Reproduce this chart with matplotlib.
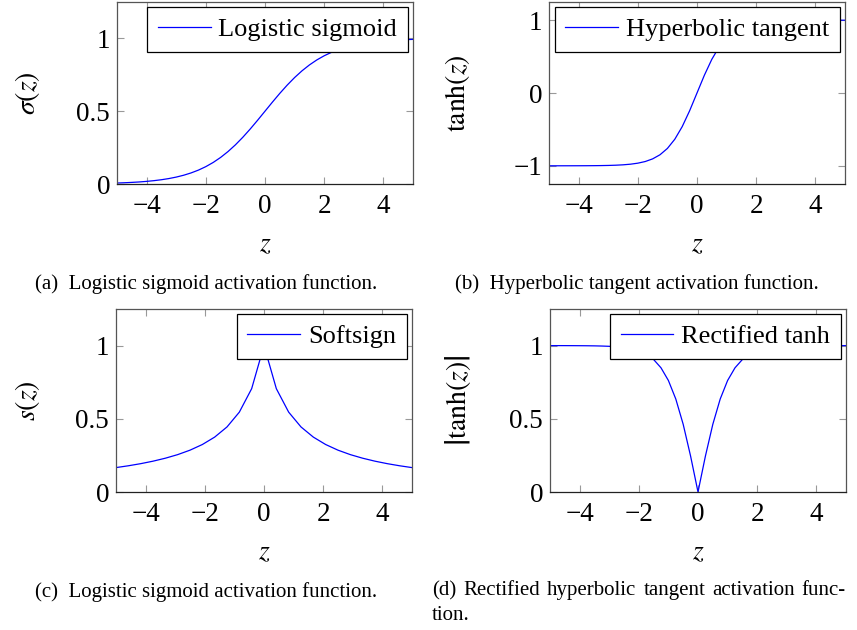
import numpy as np
import matplotlib
matplotlib.use("Agg")
from matplotlib import pyplot as plt

plt.rcParams['font.family'] = ['Liberation Serif', 'DejaVu Serif']
plt.rcParams['mathtext.fontset'] = 'stix'

# sample points (step 0.25) for the smooth curves
z_fine = [-5.0, -4.75, -4.5, -4.25, -4.0, -3.75, -3.5, -3.25, -3.0, -2.75,
          -2.5, -2.25, -2.0, -1.75, -1.5, -1.25, -1.0, -0.75, -0.5, -0.25,
          0.0, 0.25, 0.5, 0.75, 1.0, 1.25, 1.5, 1.75, 2.0, 2.25,
          2.5, 2.75, 3.0, 3.25, 3.5, 3.75, 4.0, 4.25, 4.5, 4.75, 5.0]

sigmoid_vals = [0.0067, 0.0086, 0.0110, 0.0140, 0.0180, 0.0230, 0.0293, 0.0373, 0.0474, 0.0601,
                0.0759, 0.0953, 0.1192, 0.1480, 0.1824, 0.2227, 0.2689, 0.3208, 0.3775, 0.4378,
                0.5000, 0.5622, 0.6225, 0.6792, 0.7311, 0.7773, 0.8176, 0.8520, 0.8808, 0.9047,
                0.9241, 0.9399, 0.9526, 0.9627, 0.9707, 0.9770, 0.9820, 0.9860, 0.9890, 0.9914, 0.9933]

tanh_vals = [-0.9999, -0.9999, -0.9998, -0.9996, -0.9993, -0.9989, -0.9982, -0.9970, -0.9951, -0.9919,
             -0.9866, -0.9780, -0.9640, -0.9414, -0.9051, -0.8483, -0.7616, -0.6351, -0.4621, -0.2449,
             0.0, 0.2449, 0.4621, 0.6351, 0.7616, 0.8483, 0.9051, 0.9414, 0.9640, 0.9780,
             0.9866, 0.9919, 0.9951, 0.9970, 0.9982, 0.9989, 0.9993, 0.9996, 0.9998, 0.9999, 0.9999]

abs_tanh_vals = [0.9999, 0.9999, 0.9998, 0.9996, 0.9993, 0.9989, 0.9982, 0.9970, 0.9951, 0.9919,
                 0.9866, 0.9780, 0.9640, 0.9414, 0.9051, 0.8483, 0.7616, 0.6351, 0.4621, 0.2449,
                 0.0, 0.2449, 0.4621, 0.6351, 0.7616, 0.8483, 0.9051, 0.9414, 0.9640, 0.9780,
                 0.9866, 0.9919, 0.9951, 0.9970, 0.9982, 0.9989, 0.9993, 0.9996, 0.9998, 0.9999, 0.9999]

# coarse sampling (25 samples) for the softsign panel
z_coarse = [-5.0, -4.5833, -4.1667, -3.75, -3.3333, -2.9167, -2.5, -2.0833, -1.6667, -1.25,
            -0.8333, -0.4167, 0.0, 0.4167, 0.8333, 1.25, 1.6667, 2.0833, 2.5, 2.9167,
            3.3333, 3.75, 4.1667, 4.5833, 5.0]
softsign_vals = [0.1667, 0.1791, 0.1935, 0.2105, 0.2308, 0.2553, 0.2857, 0.3243, 0.375, 0.4444,
                 0.5455, 0.7059, 1.0, 0.7059, 0.5455, 0.4444, 0.375, 0.3243, 0.2857, 0.2553,
                 0.2308, 0.2105, 0.1935, 0.1791, 0.1667]

x_ticks = [-4, -2, 0, 2, 4]

panels = [
    # x, y, legend, ylabel, yticks, ylim, caption
    (z_fine, sigmoid_vals, 'Logistic sigmoid', r'$\sigma(z)$', [0, 0.5, 1], (0, 1.25),
     '(a)  Logistic sigmoid activation function.'),
    (z_fine, tanh_vals, 'Hyperbolic tangent', r'$\mathrm{tanh}(z)$', [-1, 0, 1], (-1.25, 1.25),
     '(b)  Hyperbolic tangent activation function.'),
    (z_coarse, softsign_vals, 'Softsign', r'$s(z)$', [0, 0.5, 1], (0, 1.25),
     '(c)  Logistic sigmoid activation function.'),
    (z_fine, abs_tanh_vals, 'Rectified tanh', r'$\left|\mathrm{tanh}(z)\right|$', [0, 0.5, 1], (0, 1.25),
     None),
]
caption_d = ['(d)', 'Rectified', 'hyperbolic', 'tangent', 'activation', 'func-']
caption_d_end = 'tion.'

# axes rectangles in pixels: left, top, right, bottom
boxes = [(117, 2, 413, 184), (549, 2, 845, 184), (116, 309, 412, 492), (550, 309, 846, 492)]
ylabel_x = [27, 458, 27, 458]
caption_cx = [206, 637, 206, None]

W, H = 857, 630
fig = plt.figure(figsize=(W / 100, H / 100), dpi=100)

for k, ((x, y, leg, ylab, yt, ylim, cap), (l, t, r, b)) in enumerate(zip(panels, boxes)):
    ax = fig.add_axes([l / W, 1 - b / H, (r - l) / W, (b - t) / H])
    ax.plot(x, y, color='blue', lw=0.9, label=leg)
    ax.set_xlim(-5, 5)
    ax.set_ylim(*ylim)
    ax.set_xticks(x_ticks)
    ax.set_xticklabels(['\u22124', '\u22122', '0', '2', '4'])
    ax.set_yticks(yt)
    ax.set_yticklabels([('\u2212' + str(abs(v))) if v < 0 else str(v) for v in yt])
    ax.tick_params(direction='in', length=5, width=0.8, color='#999999',
                   top=True, right=True, labelsize=19.5)
    ax.tick_params(axis='x', pad=7)
    ax.tick_params(axis='y', pad=5)
    for s in ax.spines.values():
        s.set_color('#555555')
        s.set_linewidth(0.9)
    ax.spines['bottom'].set_color('#222222')
    ax.set_xlabel(r'$z$', fontsize=20, labelpad=10)
    ax.set_ylabel(ylab, fontsize=20, va='center')
    ax.yaxis.set_label_coords((ylabel_x[k] - l) / (r - l), 0.5)
    lg = ax.legend(loc='upper right', fontsize=19, frameon=True, fancybox=False,
                   framealpha=1, edgecolor='black', borderaxespad=0.2,
                   handlelength=2.0, handletextpad=0.3, borderpad=0.4)
    lg.get_frame().set_linewidth(0.9)
    if cap is not None:
        fig.text(caption_cx[k] / W, 1 - (b + 100) / H, cap, ha='center', va='center', fontsize=15)

# justified two-line caption for (d)
renderer = fig.canvas.get_renderer()
x0, x1, base = 432, 846, 595
words = [fig.text(0, 1 - base / H, w, ha='left', va='baseline', fontsize=15) for w in caption_d]
widths = [wt.get_window_extent(renderer).width for wt in words]
gap = (x1 - x0 - sum(widths)) / (len(words) - 1)
pos = x0
for wt, wd in zip(words, widths):
    wt.set_x(pos / W)
    pos += wd + gap
fig.text(x0 / W, 1 - (base + 25) / H, caption_d_end, ha='left', va='baseline', fontsize=15)

fig.savefig('out.png', dpi=100)
